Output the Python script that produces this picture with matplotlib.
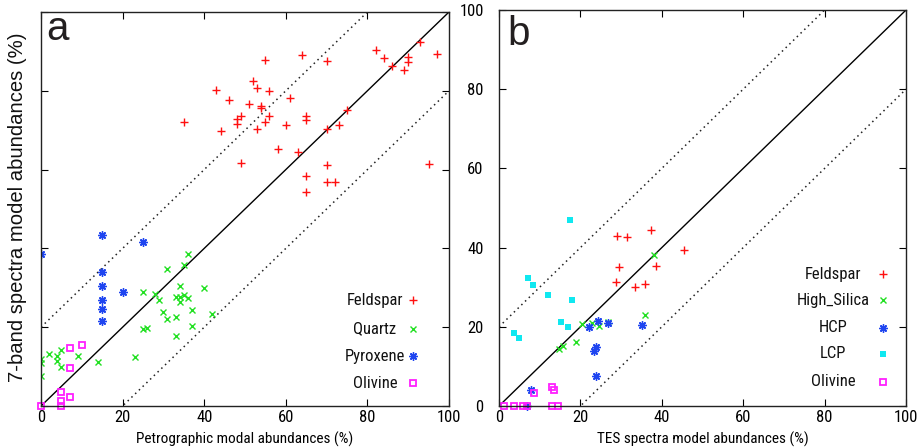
import matplotlib
matplotlib.use("Agg")
import matplotlib.pyplot as plt
from matplotlib import font_manager
import numpy as np

# ---------------- data: panel a ----------------
a_feldspar_x = [35, 43, 46, 44, 49, 48, 48, 49, 51, 52, 53, 54, 54, 55, 56, 56, 55, 53, 58, 61, 60, 63,
                64, 65, 65, 65, 65, 70, 70, 70, 70, 72, 73, 75, 82, 84, 86, 89, 90, 90, 93, 97, 95]
a_feldspar_y = [72.0, 80.2, 77.6, 69.8, 73.7, 72.8, 71.6, 61.6, 76.6, 82.6, 80.6, 76.1, 75.7, 87.7, 79.9,
                73.7, 72.1, 70.3, 65.3, 78.2, 71.2, 64.4, 89.1, 73.5, 72.5, 58.5, 54.4, 87.6, 70.4, 61.2,
                56.8, 56.8, 71.2, 75.1, 90.3, 88.3, 86.2, 85.2, 88.7, 87.4, 92.5, 89.3, 61.4]
a_quartz_x = [36, 35, 31, 34, 40, 25, 28, 29, 33, 34, 35, 36, 34, 30, 37, 42, 33, 31, 37, 25, 26, 33,
              23, 14, 9, 5, 2, 4, 4, 5, 0, 0, 0]
a_quartz_y = [38.6, 35.9, 34.8, 30.4, 29.9, 28.9, 28.5, 26.8, 27.6, 27.7, 28.2, 27.5, 26.4, 23.9, 24.4,
              23.4, 22.7, 22.0, 20.3, 19.5, 19.9, 17.7, 12.5, 11.1, 12.7, 14.1, 13.3, 12.8, 11.5, 10.0,
              12.0, 11.0, 7.7]
a_pyroxene_x = [0, 15, 25, 15, 15, 20, 15, 15, 15]
a_pyroxene_y = [38.7, 43.5, 41.7, 34.0, 30.4, 28.9, 26.9, 24.5, 21.7]
a_olivine_x = [10, 7, 7, 5, 7, 5, 5, 0]
a_olivine_y = [15.6, 14.7, 9.6, 3.5, 2.3, 1.3, 0.1, 0.0]

# ---------------- data: panel b ----------------
b_feldspar_x = [29.1, 31.5, 37.4, 45.5, 38.6, 29.4, 28.7, 33.5, 35.8]
b_feldspar_y = [43.0, 42.8, 44.4, 39.4, 35.4, 35.0, 31.3, 30.0, 30.9]
b_silica_x = [38.0, 35.8, 26.9, 20.5, 22.8, 24.6, 18.8, 15.8, 14.7]
b_silica_y = [38.1, 23.1, 21.3, 20.7, 20.9, 20.1, 16.1, 15.2, 14.5]
b_hcp_x = [22.2, 24.3, 26.9, 35.1, 23.9, 23.4, 23.9, 7.9, 7.0]
b_hcp_y = [20.0, 21.4, 20.9, 20.5, 14.9, 13.9, 7.5, 4.0, 0.0]
b_lcp_x = [17.4, 7.2, 8.3, 12.0, 17.9, 15.2, 16.9, 3.7, 4.9]
b_lcp_y = [46.9, 32.2, 30.6, 28.0, 26.8, 21.1, 20.0, 18.4, 17.1]
b_olivine_x = [13.1, 13.6, 8.5, 1.2, 3.7, 5.9, 6.8, 12.9, 14.6]
b_olivine_y = [4.8, 4.0, 3.3, 0.0, 0.0, 0.0, 0.0, 0.0, 0.0]

ticks = [0, 20, 40, 60, 80, 100]
labels_a = ["Feldspar", "Quartz", "Pyroxene", "Olivine"]
labels_b = ["Feldspar", "High_Silica", "HCP", "LCP", "Olivine"]

# ---------------- fonts: look for a narrow sans face ----------------
_entries = font_manager.fontManager.ttflist
_names = {f.name for f in _entries}
NARROW = None
STRETCH = "normal"
for cand in ["Liberation Sans Narrow", "Arial Narrow", "Roboto Condensed", "DejaVu Sans Condensed",
             "Open Sans Condensed", "Noto Sans Condensed"]:
    if cand in _names:
        NARROW = [cand, "DejaVu Sans"]
        break
if NARROW is None:
    for pref in ["Liberation Sans", "Roboto", "Noto Sans", "Open Sans", "DejaVu Sans", "Inter", "Lato"]:
        hit = [f for f in _entries if f.name == pref and str(f.stretch) in
               ("condensed", "semi-condensed", "extra-condensed", "ultra-condensed", "75", "87.5")]
        if hit:
            NARROW = [pref, "DejaVu Sans"]
            STRETCH = hit[0].stretch
            break
if NARROW is None:
    NARROW = ["Liberation Sans", "DejaVu Sans"]
WIDE = ["Liberation Sans", "DejaVu Sans"]
CONDENSED = STRETCH != "normal" or NARROW[0] != "Liberation Sans"
TICK_FS = 12 if CONDENSED else 11
LEG_FS = 12 if CONDENSED else 11
XL_FS = 11 if CONDENSED else 9.5

# ---------------- styles ----------------
RED = "#ff1010"
GREEN = "#22e022"
BLUE = "#1f45f0"
CYAN = "#10e8f0"
MAG = "#ff20ff"

sty = {
    "plus": dict(marker="+", ms=6, mew=1.0, color=RED, ls="none"),
    "x": dict(marker="x", ms=5, mew=1.0, color=GREEN, ls="none"),
    "star": dict(marker=(8, 2, 0), ms=6, mew=1.0, color=BLUE, ls="none"),
    "fsq": dict(marker="s", ms=5, mew=0, color=CYAN, ls="none"),
    "osq": dict(marker="s", ms=5, mew=1.3, mfc="none", mec=MAG, ls="none"),
}

fig = plt.figure(figsize=(9.17, 4.47), dpi=100)
fig.patch.set_facecolor("white")

axa = fig.add_axes([41 / 917, 1 - 406 / 447, (449 - 41) / 917, (406 - 12) / 447])
axb = fig.add_axes([499 / 917, 1 - 406 / 447, (906 - 499) / 917, (406 - 10) / 447])


def style_text(t, size):
    t.set_fontfamily(NARROW)
    t.set_fontstretch(STRETCH)
    t.set_fontsize(size)


def base(ax):
    ax.set_xlim(0, 100)
    ax.set_ylim(0, 100)
    ref = np.array([0, 100])
    ax.plot(ref, ref, color="black", lw=1.0, zorder=1)
    ax.plot(ref, ref + 20, color="#222222", lw=1.1, ls=(0, (1, 2.4)), zorder=1)
    ax.plot(ref, ref - 20, color="#222222", lw=1.1, ls=(0, (1, 2.4)), zorder=1)
    ax.set_xticks(ticks)
    ax.set_yticks(ticks)
    ax.tick_params(direction="in", length=5, width=0.8, top=True, right=True, colors="black")
    for s in ax.spines.values():
        s.set_linewidth(1.0)
        s.set_color("#222222")
    for t in ax.get_xticklabels() + ax.get_yticklabels():
        style_text(t, TICK_FS)


def legend(ax, labels, styles, ys, xtext, xmark):
    for lab, st, y in zip(labels, styles, ys):
        t = ax.text(xtext, y, lab, transform=ax.transAxes, ha="center", va="center", color="#111111")
        style_text(t, LEG_FS)
        ax.plot([xmark], [y], transform=ax.transAxes, clip_on=False, **st)


# ---- panel a ----
base(axa)
axa.tick_params(axis="x", pad=3)
axa.tick_params(axis="y", labelleft=False)
axa.plot(a_feldspar_x, a_feldspar_y, **sty["plus"])
axa.plot(a_quartz_x, a_quartz_y, **sty["x"])
axa.plot(a_pyroxene_x, a_pyroxene_y, **sty["star"])
axa.plot(a_olivine_x, a_olivine_y, clip_on=False, **sty["osq"])
xl = axa.set_xlabel("Petrographic modal abundances (%)", labelpad=5)
style_text(xl, XL_FS)
fig.text(18 / 917, 1 - 207 / 447, "7-band spectra model abundances (%)", rotation=90,
         ha="center", va="center", fontsize=14.6, family=WIDE, color="#111111")
axa.text(1.2, 92.8, "a", fontsize=29, family=WIDE, color="#231f20", va="baseline")
legend(axa, labels_a, [sty["plus"], sty["x"], sty["star"], sty["osq"]],
       [(406 - y) / 394 for y in (300, 329, 356, 383)], (375 - 41) / 408, (413 - 41) / 408)

# ---- panel b ----
base(axb)
axb.tick_params(axis="x", pad=3)
axb.tick_params(axis="y", pad=11)
axb.plot(b_feldspar_x, b_feldspar_y, **sty["plus"])
axb.plot(b_silica_x, b_silica_y, **sty["x"])
axb.plot(b_hcp_x, b_hcp_y, clip_on=False, **sty["star"])
axb.plot(b_lcp_x, b_lcp_y, **sty["fsq"])
axb.plot(b_olivine_x, b_olivine_y, clip_on=False, **sty["osq"])
xl = axb.set_xlabel("TES spectra model abundances (%)", labelpad=5)
style_text(xl, XL_FS)
axb.text(2.0, 91.2, "b", fontsize=29, family=WIDE, color="#231f20", va="baseline")
legend(axb, labels_b, [sty["plus"], sty["x"], sty["star"], sty["fsq"], sty["osq"]],
       [(406 - y) / 396 for y in (274, 300, 328, 354, 382)], (833 - 499) / 407, (883 - 499) / 407)

fig.savefig("out.png", dpi=100, facecolor="white")
